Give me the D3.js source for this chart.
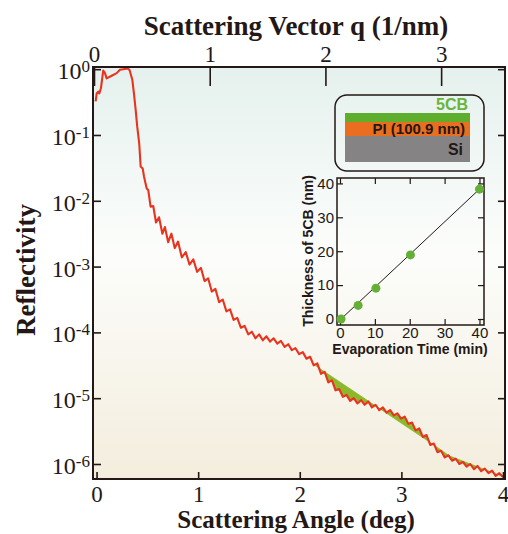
<!DOCTYPE html>
<html><head><meta charset="utf-8">
<script src="https://cdn.jsdelivr.net/npm/d3@7"></script>
<style>body{margin:0;background:#fff}svg{display:block}</style>
</head><body>
<svg id="c" width="508" height="534"></svg>
<script>
// ---- data ----
const angleDeg = [
 -0.009,0.001,0.017,0.027,0.043,0.066,0.083,0.099,0.149,0.198,0.230,0.263,0.306,0.324,0.352,0.368,0.385,0.400,0.420,0.434,0.454,0.467,0.493,0.509,0.532,
 0.558,0.585,0.615,0.648,0.673,0.705,0.737,0.770,0.802,0.839,0.878,0.915,0.952,0.990,
 1.027,1.063,1.099,1.134,1.170,1.206,1.242,1.278,1.314,1.349,1.385,1.421,1.457,1.493,1.528,1.564,1.600,1.636,1.672,1.708,
 1.743,1.779,1.815,1.851,1.887,1.922,1.958,1.994,2.030,2.066,2.102,2.137,2.173,2.209,2.245,2.281,2.317,2.352,2.388,
 2.424,2.460,2.496,2.531,2.567,2.603,2.639,2.675,2.710,2.746,2.782,2.818,2.854,2.890,2.925,2.961,2.997,3.033,3.069,
 3.105,3.140,3.176,3.212,3.248,3.284,3.320,3.355,3.391,3.427,3.463,3.499,3.535,3.570,3.606,3.642,3.678,3.714,3.749,
 3.785,3.821,3.857,3.893,3.928,3.964,4.000
];
const log10Reflectivity = [
 -0.49,-0.37,-0.34,-0.37,-0.29,-0.02,-0.06,-0.14,-0.10,-0.06,-0.01,0.00,0.01,-0.01,-0.16,-0.37,-0.62,-0.87,-1.13,-1.48,-1.51,-1.63,-1.81,-1.84,-2.09,
 -2.08,-2.33,-2.25,-2.50,-2.40,-2.63,-2.50,-2.72,-2.62,-2.86,-2.78,-2.97,-2.89,-3.08,
 -3.02,-3.22,-3.18,-3.38,-3.34,-3.54,-3.50,-3.68,-3.65,-3.81,-3.78,-3.93,-3.90,-4.03,-3.99,-4.09,-4.03,-4.12,-4.06,-4.14,
 -4.09,-4.17,-4.13,-4.22,-4.18,-4.27,-4.24,-4.33,-4.30,-4.40,-4.37,-4.50,-4.47,-4.63,-4.60,-4.76,-4.73,-4.88,-4.86,
 -4.98,-4.95,-5.04,-5.00,-5.08,-5.03,-5.10,-5.05,-5.14,-5.10,-5.18,-5.14,-5.22,-5.18,-5.26,-5.23,-5.31,-5.28,-5.39,
 -5.37,-5.49,-5.46,-5.59,-5.56,-5.71,-5.69,-5.82,-5.80,-5.90,-5.87,-5.95,-5.92,-6.00,-5.97,-6.04,-6.00,-6.08,-6.03,
 -6.11,-6.07,-6.14,-6.10,-6.18,-6.14,-6.20
];
// smooth reference curve bounding the green shaded difference
const refAngleDeg = [2.159, 2.671, 3.252, 3.476, 4.0];
const refLog10Reflectivity = [-4.51, -5.04, -5.64, -5.88, -6.19];

const angleTicks = [0, 1, 2, 3, 4];
const qTicks = [0, 1, 2, 3];
const decadeExponents = [0, -1, -2, -3, -4, -5, -6];

// inset
const evapTime = [0.3, 5.2, 10.3, 20.2, 40];
const thickness5CB = [0, 4, 9.1, 18.9, 38.3];
const fitSlope = 0.965, fitIntercept = -0.29;
const insetTicks = [0, 10, 20, 30, 40];
const layerLabels = ["5CB", "PI (100.9 nm)", "Si"];

// ---- drawing ----
const svg = d3.select("#c");
const INK = "#231815";
const SERIF = "'Liberation Serif','Times New Roman',serif";
const SANS = "'Liberation Sans',Arial,Helvetica,sans-serif";

const L = 93, R = 505, T = 67, B = 479;
const x = d3.scaleLinear().domain([-0.035, 4.02]).range([L, R]);
const q = d3.scaleLinear().domain([0, 3.552]).range([94, R]);
const y = d3.scaleLog().domain([Math.pow(10, -6.228), Math.pow(10, 0.033)]).range([B, T]);

const defs = svg.append("defs");
const grad = defs.append("linearGradient").attr("id", "bg").attr("x1", 0).attr("y1", 0).attr("x2", 0).attr("y2", 1);
grad.append("stop").attr("offset", "0%").attr("stop-color", "#e5f1ee");
grad.append("stop").attr("offset", "45%").attr("stop-color", "#fcfdfb");
grad.append("stop").attr("offset", "100%").attr("stop-color", "#f3eddd");
defs.append("clipPath").attr("id", "clip").append("rect").attr("x", L).attr("y", T).attr("width", R - L).attr("height", B - T);

svg.append("rect").attr("x", L).attr("y", T).attr("width", R - L).attr("height", B - T).attr("fill", "url(#bg)");

const pts = angleDeg.map((a, i) => [a, log10Reflectivity[i]]);
const refPts = refAngleDeg.map((a, i) => [a, refLog10Reflectivity[i]]);
const line = d3.line().x(d => x(d[0])).y(d => y(Math.pow(10, d[1])));

// green difference region: red curve forward, reference curve backward
const a0 = refAngleDeg[0], a1 = refAngleDeg[refAngleDeg.length - 1];
const poly = [refPts[0]].concat(pts.filter(d => d[0] > a0 && d[0] <= a1)).concat(refPts.slice().reverse());
const plotG = svg.append("g").attr("clip-path", "url(#clip)");
plotG.append("path").attr("d", line(poly) + "Z").attr("fill", "#8cb82b").attr("stroke", "#8cb82b").attr("stroke-width", 0.8);
plotG.append("path").attr("d", line(pts)).attr("fill", "none").attr("stroke", "#e8341f").attr("stroke-width", 2.1).attr("stroke-linejoin", "round");

function styleAxis(g) {
  g.select(".domain").remove();
  g.selectAll(".tick line").attr("stroke", INK).attr("stroke-width", 1.6);
  g.selectAll(".tick text").attr("fill", INK);
}
// bottom
svg.append("g").attr("transform", `translate(0,${B})`)
  .call(d3.axisBottom(x).tickValues(angleTicks).tickSize(-7).tickPadding(7).tickFormat(d3.format("d")))
  .call(styleAxis).call(g => g.selectAll("text").attr("font-family", SERIF).attr("font-size", 23));
// top
svg.append("g").attr("transform", `translate(0,${T})`)
  .call(d3.axisTop(q).tickValues(qTicks).tickSize(-19).tickPadding(5).tickFormat(d3.format("d")))
  .call(styleAxis).call(g => g.selectAll("text").attr("font-family", SERIF).attr("font-size", 23));
// left
svg.append("g").attr("transform", `translate(${L},0)`)
  .call(d3.axisLeft(y).tickValues(decadeExponents.map(e => Math.pow(10, e))).tickSize(-8).tickPadding(3))
  .call(styleAxis)
  .call(g => g.selectAll(".tick text").each(function (d) {
    const t = d3.select(this).text(null).attr("font-family", SERIF).attr("font-size", 24).attr("dy", "0.4em");
    const e = Math.round(Math.log10(d));
    t.append("tspan").text("10");
    t.append("tspan").attr("dy", "-0.42em").attr("font-size", 17).text(String(e));
  }));
// right
svg.append("g").attr("transform", `translate(${R},0)`)
  .call(d3.axisRight(y).tickValues(decadeExponents.map(e => Math.pow(10, e))).tickSize(-7).tickFormat(""))
  .call(styleAxis);

svg.append("rect").attr("x", L).attr("y", T).attr("width", R - L).attr("height", B - T)
  .attr("fill", "none").attr("stroke", INK).attr("stroke-width", 2);

// titles
svg.append("text").attr("x", 296).attr("y", 35).attr("text-anchor", "middle")
  .attr("font-family", SERIF).attr("font-weight", "bold").attr("font-size", 27).attr("fill", INK)
  .text("Scattering Vector q (1/nm)");
svg.append("text").attr("x", 296).attr("y", 528).attr("text-anchor", "middle")
  .attr("font-family", SERIF).attr("font-weight", "bold").attr("font-size", 25).attr("fill", INK)
  .text("Scattering Angle (deg)");
svg.append("text").attr("transform", "translate(35,270) rotate(-90)").attr("text-anchor", "middle")
  .attr("font-family", SERIF).attr("font-weight", "bold").attr("font-size", 27).attr("fill", INK)
  .text("Reflectivity");

// ---- layer schematic ----
const sch = svg.append("g");
sch.append("rect").attr("x", 335).attr("y", 95).attr("width", 149).attr("height", 76).attr("rx", 12)
  .attr("fill", "none").attr("stroke", INK).attr("stroke-width", 1.5);
sch.append("rect").attr("x", 345).attr("y", 113).attr("width", 125).attr("height", 9).attr("fill", "#5fad2d");
sch.append("rect").attr("x", 345).attr("y", 122).attr("width", 125).attr("height", 14).attr("fill", "#ea6e1f");
sch.append("rect").attr("x", 345).attr("y", 136).attr("width", 125).attr("height", 26).attr("fill", "#858384");
sch.append("text").attr("x", 468).attr("y", 110).attr("text-anchor", "end").attr("font-family", SANS)
  .attr("font-weight", "bold").attr("font-size", 16).attr("fill", "#6ab43a").text(layerLabels[0]);
sch.append("text").attr("x", 465).attr("y", 133.5).attr("text-anchor", "end").attr("font-family", SANS)
  .attr("font-weight", "bold").attr("font-size", 15).attr("fill", INK).text(layerLabels[1]);
sch.append("text").attr("x", 463).attr("y", 155).attr("text-anchor", "end").attr("font-family", SANS)
  .attr("font-weight", "bold").attr("font-size", 16).attr("fill", INK).text(layerLabels[2]);

// ---- inset scatter ----
const iL = 337, iR = 484, iT = 178, iB = 325;
const ix = d3.scaleLinear().domain([-0.86, 41.3]).range([iL, iR]);
const iy = d3.scaleLinear().domain([-1.77, 41.6]).range([iB, iT]);
const ins = svg.append("g");
function styleInset(g) {
  g.select(".domain").remove();
  g.selectAll(".tick line").attr("stroke", INK).attr("stroke-width", 1.2);
  g.selectAll(".tick text").attr("fill", INK).attr("font-family", SANS).attr("font-size", 15);
}
ins.append("g").attr("transform", `translate(0,${iB})`)
  .call(d3.axisBottom(ix).tickValues(insetTicks).tickSize(-6).tickPadding(2)).call(styleInset);
ins.append("g").attr("transform", `translate(0,${iT})`)
  .call(d3.axisTop(ix).tickValues(insetTicks).tickSize(-6).tickFormat("")).call(styleInset);
ins.append("g").attr("transform", `translate(${iL},0)`)
  .call(d3.axisLeft(iy).tickValues(insetTicks).tickSize(-6).tickPadding(3)).call(styleInset);
ins.append("g").attr("transform", `translate(${iR},0)`)
  .call(d3.axisRight(iy).tickValues(insetTicks).tickSize(-6).tickFormat("")).call(styleInset);
ins.append("rect").attr("x", iL).attr("y", iT).attr("width", iR - iL).attr("height", iB - iT)
  .attr("fill", "none").attr("stroke", INK).attr("stroke-width", 1.5);
const fx0 = evapTime[0], fx1 = evapTime[evapTime.length - 1];
ins.append("line").attr("x1", ix(fx0)).attr("y1", iy(fitSlope * fx0 + fitIntercept))
  .attr("x2", ix(fx1)).attr("y2", iy(fitSlope * fx1 + fitIntercept)).attr("stroke", INK).attr("stroke-width", 1);
ins.selectAll("circle").data(evapTime).join("circle")
  .attr("cx", d => ix(d)).attr("cy", (d, i) => iy(thickness5CB[i])).attr("r", 4.5).attr("fill", "#63b037");
ins.append("text").attr("x", 410).attr("y", 354).attr("text-anchor", "middle").attr("font-family", SANS)
  .attr("font-weight", "bold").attr("font-size", 14).attr("fill", INK).text("Evaporation Time (min)");
ins.append("text").attr("transform", "translate(313,251) rotate(-90)").attr("text-anchor", "middle").attr("font-family", SANS)
  .attr("font-weight", "bold").attr("font-size", 14).attr("fill", INK).text("Thickness of 5CB (nm)");
</script>
</body></html>
